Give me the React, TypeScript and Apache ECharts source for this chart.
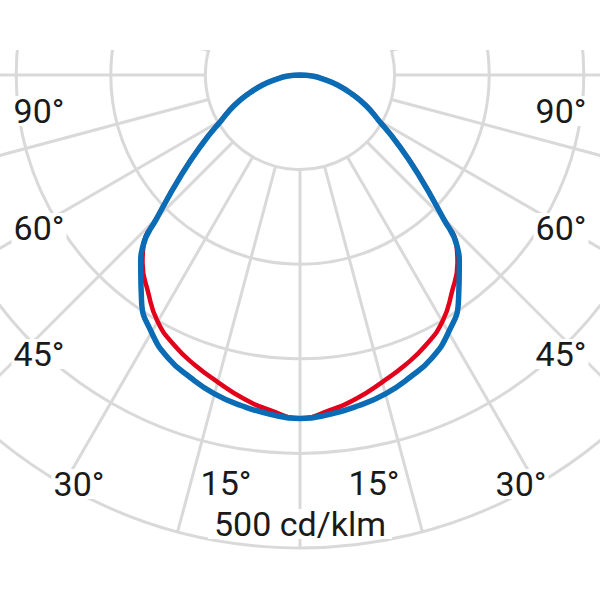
import React, { useEffect, useRef } from "react";
import * as echarts from "echarts";

// Photometric angles (degrees from nadir) and luminous intensities (cd/klm)
const gammaAngles = [0, 5, 10, 15, 20, 25, 30, 35, 40, 42.5, 45, 50, 55, 60, 65, 70, 75, 80, 85, 90];
const planeC90 = [363, 360, 355, 349, 340, 330, 314, 292, 262, 246, 214, 163, 125, 96, 77, 58, 41, 25, 13, 0];
const planeC0 = [363, 356, 347, 336, 326, 315, 301, 280, 259, 245, 214, 164, 126, 97, 78, 59, 42, 26, 13, 0];

// Axis settings
const gridRadiusMin = 100;
const radiusMax = 500;
const radiusStep = 100;
const angleStep = 15;

// Tick labels
const leftLabels = ["90°", "60°", "45°", "30°", "15°"];
const rightLabels = ["90°", "60°", "45°", "30°", "15°"];
const scaleLabel = "500 cd/klm";

// Label layout (pixels)
const leftLabelPos = [
  [39, 111],
  [39, 228],
  [39, 354],
  [79, 484],
  [226, 483],
];
const rightLabelPos = [
  [561, 111],
  [561, 228],
  [561, 354],
  [521, 484],
  [374, 483],
];
const scaleLabelPos = [300, 524];

function buildCurve(values: number[]) {
  const pts: [number, number][] = [];
  for (let i = gammaAngles.length - 1; i >= 0; i--) pts.push([values[i], -gammaAngles[i]]);
  for (let i = 1; i < gammaAngles.length; i++) pts.push([values[i], gammaAngles[i]]);
  return pts;
}

const FONT = '34px Roboto, "Open Sans", sans-serif';

function label(t: string, x: number, y: number, padX: number) {
  return {
    type: "text",
    z: 50,
    x,
    y,
    style: {
      text: t,
      font: FONT,
      fill: "#1a1a1a",
      align: "center",
      verticalAlign: "middle",
      lineHeight: 30,
      backgroundColor: "#ffffff",
      padding: [0, padX],
    },
  };
}

export default function App() {
  const ref = useRef<HTMLDivElement>(null);
  useEffect(() => {
    if (!ref.current) return;
    const chart = echarts.init(ref.current, undefined, { renderer: "svg" });
    const gridStyle = { color: "#d9d9d9", width: 3 };
    const textEls: any[] = [];
    leftLabels.forEach((t, i) => textEls.push(label(t, leftLabelPos[i][0], leftLabelPos[i][1], 2)));
    rightLabels.forEach((t, i) => textEls.push(label(t, rightLabelPos[i][0], rightLabelPos[i][1], 2)));
    textEls.push(label(scaleLabel, scaleLabelPos[0], scaleLabelPos[1], 6));
    const hidden = {
      axisLine: { show: false },
      axisTick: { show: false },
      axisLabel: { show: false },
      splitLine: { show: false },
      splitArea: { show: false },
    };
    chart.setOption({
      animation: false,
      backgroundColor: "#ffffff",
      polar: [
        { center: [300, 75], radius: [94.6, 473] },
        { center: [300, 75], radius: 473 },
      ],
      angleAxis: [
        {
          polarIndex: 0,
          type: "value",
          min: -180,
          max: 180,
          interval: angleStep,
          startAngle: 90,
          clockwise: true,
          axisLine: { show: false },
          axisTick: { show: false },
          axisLabel: { show: false },
          splitLine: { show: true, lineStyle: gridStyle },
        },
        {
          polarIndex: 1,
          type: "value",
          min: -180,
          max: 180,
          interval: angleStep,
          startAngle: 90,
          clockwise: true,
          ...hidden,
        },
      ],
      radiusAxis: [
        {
          polarIndex: 0,
          type: "value",
          min: gridRadiusMin,
          max: radiusMax,
          interval: radiusStep,
          axisLine: { show: false },
          axisTick: { show: false },
          axisLabel: { show: false },
          splitLine: { show: true, lineStyle: gridStyle },
        },
        {
          polarIndex: 1,
          type: "value",
          min: 0,
          max: radiusMax,
          interval: radiusStep,
          ...hidden,
        },
      ],
      series: [
        {
          type: "line",
          name: "C0-C180",
          coordinateSystem: "polar",
          polarIndex: 1,
          data: buildCurve(planeC0),
          smooth: 0.5,
          symbol: "none",
          clip: false,
          lineStyle: { color: "#e2001a", width: 4.5 },
          z: 3,
        },
        {
          type: "line",
          name: "C90-C270",
          coordinateSystem: "polar",
          polarIndex: 1,
          data: buildCurve(planeC90),
          smooth: 0.5,
          symbol: "none",
          clip: false,
          lineStyle: { color: "#0a6cb5", width: 5.5 },
          z: 4,
        },
      ],
      graphic: [
        {
          type: "rect",
          z: 40,
          shape: { x: 0, y: 0, width: 600, height: 50 },
          style: { fill: "#ffffff" },
        },
        ...textEls,
      ],
    });
    return () => chart.dispose();
  }, []);
  return (
    <div
      ref={ref}
      style={{ position: "absolute", left: 0, top: 0, width: 600, height: 600 }}
    />
  );
}
